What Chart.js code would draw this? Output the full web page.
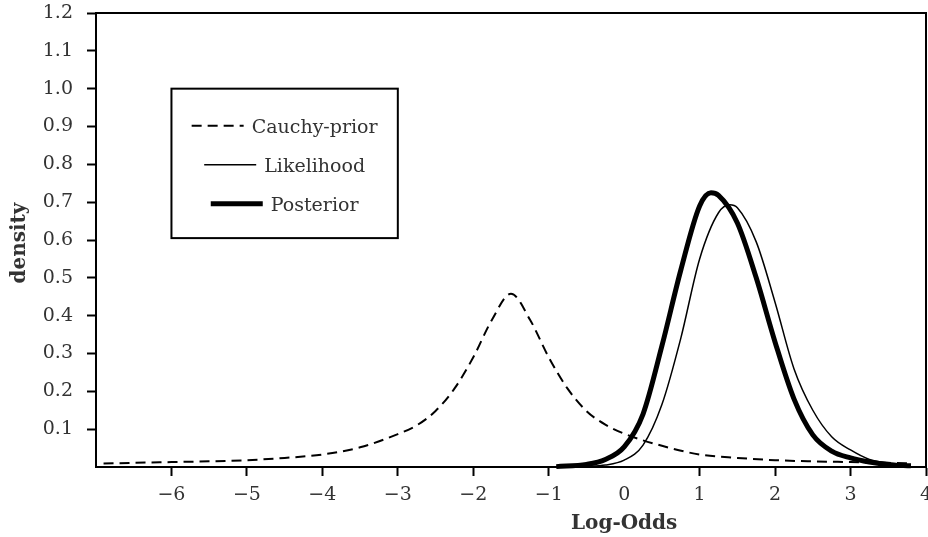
<!DOCTYPE html>
<html>
<head>
<meta charset="utf-8">
<script src="https://cdn.jsdelivr.net/npm/chart.js@4.4.0/dist/chart.umd.min.js"></script>
<style>
  html, body { margin: 0; padding: 0; background: #fff; }
</style>
</head>
<body>
<canvas id="chart" width="928" height="537"></canvas>
<script>
// Cauchy prior (dashed)
const priorX = [-6.9, -6.5, -6, -5.5, -5, -4.5, -4, -3.5, -3, -2.75, -2.5, -2.25, -2, -1.75, -1.5, -1.25, -1, -0.75, -0.5, -0.25, 0, 0.5, 1, 1.5, 2, 2.5, 3, 3.5, 3.8];
const priorY = [0.009, 0.011, 0.013, 0.015, 0.018, 0.024, 0.033, 0.052, 0.087, 0.11, 0.148, 0.207, 0.29, 0.39, 0.458, 0.39, 0.29, 0.207, 0.148, 0.112, 0.088, 0.056, 0.033, 0.024, 0.018, 0.015, 0.013, 0.011, 0.010];

// likelihood (thin line)
const likeX = [-0.9, -0.5, -0.25, 0, 0.25, 0.5, 0.75, 1.0, 1.25, 1.4, 1.5, 1.75, 2.0, 2.25, 2.5, 2.75, 3.0, 3.25, 3.5, 3.8];
const likeY = [0.001, 0.002, 0.005, 0.018, 0.058, 0.165, 0.34, 0.55, 0.672, 0.693, 0.685, 0.595, 0.435, 0.26, 0.15, 0.08, 0.045, 0.02, 0.011, 0.004];

// posterior (thick line)
const postX = [-0.9, -0.5, -0.25, 0, 0.25, 0.5, 0.75, 1.0, 1.15, 1.25, 1.5, 1.75, 2.0, 2.25, 2.5, 2.75, 3.0, 3.25, 3.5, 3.8];
const postY = [0.001, 0.007, 0.02, 0.053, 0.14, 0.32, 0.52, 0.69, 0.725, 0.718, 0.645, 0.50, 0.33, 0.18, 0.085, 0.042, 0.024, 0.013, 0.006, 0.003];

const seriesLabels = ["Cauchy-prior", "Likelihood", "Posterior"];
const xTitle = "Log-Odds";
const yTitle = "density";

const serif = "'DejaVu Serif', serif";
const textColor = "#333";
const toPoints = (xs, ys) => xs.map((x, i) => ({ x: x, y: ys[i] }));

// hide tick marks at the axis corner
const tickColor = (ctx) => {
  const v = ctx.tick ? ctx.tick.value : null;
  return (v === -7 || (v !== null && Math.abs(v) < 1e-9)) ? "rgba(0,0,0,0)" : "#000";
};

// frame on top/right, axis titles, and the boxed legend
const extras = {
  id: "extras",
  afterDraw(chart) {
    const { ctx, chartArea: a, scales } = chart;
    const x = scales.x, y = scales.y;
    ctx.save();
    ctx.strokeStyle = "#000";
    ctx.lineWidth = 2;
    ctx.beginPath();
    ctx.moveTo(a.left, a.top);
    ctx.lineTo(a.right, a.top);
    ctx.lineTo(a.right, a.bottom);
    ctx.stroke();

    ctx.fillStyle = textColor;
    ctx.font = "bold 20px " + serif;
    ctx.textAlign = "center";
    ctx.textBaseline = "alphabetic";
    ctx.fillText(xTitle, x.getPixelForValue(0), 529);

    ctx.save();
    ctx.translate(25, 243);
    ctx.rotate(-Math.PI / 2);
    ctx.fillText(yTitle, 0, 0);
    ctx.restore();

    // legend box
    const bx0 = x.getPixelForValue(-6), bx1 = x.getPixelForValue(-3);
    const by0 = y.getPixelForValue(1.0), by1 = y.getPixelForValue(0.605);
    ctx.fillStyle = "#fff";
    ctx.fillRect(bx0, by0, bx1 - bx0, by1 - by0);
    ctx.strokeRect(bx0, by0, bx1 - bx0, by1 - by0);

    const cx = (bx0 + bx1) / 2;
    ctx.font = "19px " + serif;
    ctx.textAlign = "left";
    chart.data.datasets.forEach((ds, i) => {
      const base = by0 + 44 + i * 39;
      const sample = 52, gap = 8;
      const tw = ctx.measureText(ds.label).width;
      const start = cx - (sample + gap + tw) / 2;
      ctx.beginPath();
      ctx.setLineDash(ds.borderDash || []);
      ctx.lineWidth = ds.borderWidth;
      ctx.moveTo(start, base - 7);
      ctx.lineTo(start + sample, base - 7);
      ctx.stroke();
      ctx.setLineDash([]);
      ctx.fillStyle = textColor;
      ctx.fillText(ds.label, start + sample + gap, base);
    });
    ctx.restore();
  }
};

new Chart(document.getElementById("chart"), {
  type: "line",
  data: {
    datasets: [
      {
        label: seriesLabels[0],
        data: toPoints(priorX, priorY),
        borderColor: "#000",
        borderWidth: 2,
        borderDash: [10, 6],
        pointRadius: 0,
        cubicInterpolationMode: "monotone",
        clip: false
      },
      {
        label: seriesLabels[1],
        data: toPoints(likeX, likeY),
        borderColor: "#000",
        borderWidth: 1.5,
        pointRadius: 0,
        cubicInterpolationMode: "monotone",
        clip: false
      },
      {
        label: seriesLabels[2],
        data: toPoints(postX, postY),
        borderColor: "#000",
        borderWidth: 5,
        pointRadius: 0,
        cubicInterpolationMode: "monotone",
        clip: false
      }
    ]
  },
  options: {
    responsive: false,
    animation: false,
    layout: { padding: { top: 13, right: 2, left: 0, bottom: 0 } },
    plugins: {
      legend: { display: false },
      tooltip: { enabled: false }
    },
    scales: {
      x: {
        type: "linear",
        min: -7,
        max: 4,
        ticks: {
          stepSize: 1,
          autoSkip: false,
          maxRotation: 0,
          padding: 8,
          color: textColor,
          font: { family: serif, size: 19 },
          callback: (v) => v === -7 ? "" : (v < 0 ? "\u2212" + Math.abs(v) : String(v))
        },
        grid: {
          drawOnChartArea: false,
          drawTicks: true,
          tickLength: 9,
          tickWidth: 2,
          tickColor: tickColor
        },
        border: { color: "#000", width: 2 },
        afterFit: (s) => { s.height = 70; s.paddingRight = 0; s.paddingLeft = 0; }
      },
      y: {
        min: 0,
        max: 1.2,
        ticks: {
          stepSize: 0.1,
          padding: 14,
          color: textColor,
          font: { family: serif, size: 19 },
          callback: (v) => Math.abs(v) < 1e-9 ? "" : v.toFixed(1)
        },
        grid: {
          drawOnChartArea: false,
          drawTicks: true,
          tickLength: 9,
          tickWidth: 2,
          tickColor: tickColor
        },
        border: { color: "#000", width: 2 },
        afterFit: (s) => { s.width = 96; s.paddingTop = 0; s.paddingBottom = 0; }
      }
    }
  },
  plugins: [extras]
});
</script>
</body>
</html>
